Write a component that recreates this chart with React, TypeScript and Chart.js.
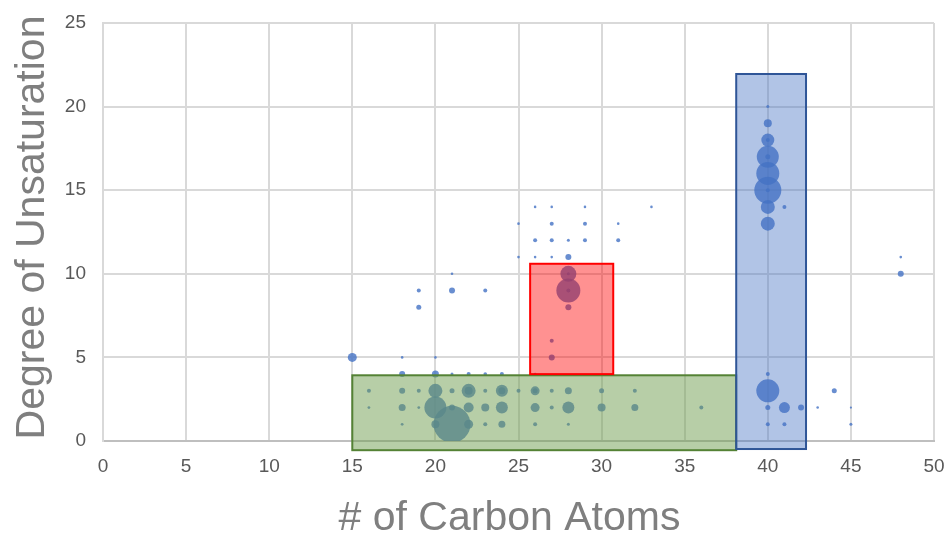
import React, { useEffect, useRef } from 'react';
import { Chart, registerables } from 'chart.js';

Chart.register(...registerables);

// ---- Data ----
const bubbleX = [
  15, 18, 20, 27, 27,
  18, 20, 21, 22, 23, 24, 26, 40,
  16, 18, 19, 20, 21, 22, 22, 23, 24, 24, 25, 26, 26, 27, 28, 30, 32, 40, 44,
  16, 18, 19, 20, 21, 22, 23, 24, 26, 27, 28, 30, 32, 36, 40, 41, 42, 43, 45,
  18, 20, 21, 22, 23, 24, 26, 28, 40, 41, 45,
  19, 28,
  19, 21, 23, 28, 28,
  21, 28, 28, 48,
  25, 26, 27, 28, 48,
  26, 27, 28, 29, 31,
  25, 27, 29, 31, 40,
  26, 27, 29, 33, 40, 41,
  40, 40,
  40,
  40, 40,
  40, 40,
  40,
  40,
];
const bubbleY = [
  5, 5, 5, 5, 6,
  4, 4, 4, 4, 4, 4, 4, 4,
  3, 3, 3, 3, 3, 3, 3, 3, 3, 3, 3, 3, 3, 3, 3, 3, 3, 3, 3,
  2, 2, 2, 2, 2, 2, 2, 2, 2, 2, 2, 2, 2, 2, 2, 2, 2, 2, 2,
  1, 1, 1, 1, 1, 1, 1, 1, 1, 1, 1,
  8, 8,
  9, 9, 9, 9, 9,
  10, 10, 10, 10,
  11, 11, 11, 11, 11,
  12, 12, 12, 12, 12,
  13, 13, 13, 13, 13,
  14, 14, 14, 14, 14, 14,
  15, 15,
  16,
  17, 17,
  18, 18,
  19,
  20,
];
const bubbleR = [
  4.5, 1.3, 1.3, 3, 2,
  3, 3.5, 1.5, 2, 1.8, 2, 1.3, 2,
  2, 3, 2, 7, 2.5, 7, 4, 2, 6, 3.5, 2, 4.5, 2.5, 2, 3.5, 2.5, 2, 11.5, 2.5,
  1.4, 3.5, 1.4, 11, 3, 5, 4, 6, 4.5, 2, 6, 4, 3.5, 2, 2.5, 5.5, 3, 1.3, 1.1,
  1.4, 4, 18.5, 4.5, 2, 3.5, 2, 1.5, 2, 2, 1.5,
  2.5, 3,
  2, 3, 2, 12, 2,
  1.3, 8, 1.5, 3,
  1.3, 1.3, 1.3, 3, 1.3,
  2, 2, 1.5, 2, 2,
  1.3, 2, 2, 1.3, 7,
  1.3, 1.3, 1.3, 1.3, 7, 2,
  13.5, 2,
  11.5,
  11, 2.5,
  6.5, 2,
  4,
  1.5,
];

// Highlight boxes (data units)
const boxXMin = [15, 25.7, 38.1];
const boxXMax = [38.1, 30.7, 42.3];
const boxYMin = [-0.55, 4.0, -0.48];
const boxYMax = [3.93, 10.6, 21.95];

const xTitle = '# of Carbon Atoms';
const yTitle = 'Degree of Unsaturation';

// ---- Styles ----
const boxFill = ['rgba(112,158,80,0.5)', 'rgba(255,0,0,0.43)', 'rgba(68,114,196,0.42)'];
const boxStroke = ['#548235', '#ff0000', '#2f5597'];
const FONT = '"Liberation Sans", Arial, sans-serif';

export default function App() {
  const canvasRef = useRef<HTMLCanvasElement | null>(null);

  useEffect(() => {
    const canvas = canvasRef.current;
    if (!canvas) return;

    const boxesPlugin = {
      id: 'boxes',
      afterDatasetsDraw(chart: any) {
        const { ctx, scales } = chart;
        const xs = scales.x;
        const ys = scales.y;
        ctx.save();
        for (let i = 0; i < boxXMin.length; i++) {
          const x1 = xs.getPixelForValue(boxXMin[i]);
          const x2 = xs.getPixelForValue(boxXMax[i]);
          const y1 = ys.getPixelForValue(boxYMax[i]);
          const y2 = ys.getPixelForValue(boxYMin[i]);
          ctx.fillStyle = boxFill[i];
          ctx.fillRect(x1, y1, x2 - x1, y2 - y1);
          ctx.lineWidth = 2;
          ctx.strokeStyle = boxStroke[i];
          ctx.strokeRect(x1, y1, x2 - x1, y2 - y1);
        }
        ctx.restore();
      },
    };

    const titlesPlugin = {
      id: 'axisTitles',
      afterDraw(chart: any) {
        const { ctx, chartArea } = chart;
        ctx.save();
        ctx.fillStyle = '#7f7f7f';
        ctx.font = `41px ${FONT}`;
        ctx.textAlign = 'center';
        ctx.textBaseline = 'alphabetic';
        const cx = (chartArea.left + chartArea.right) / 2 - 9;
        ctx.fillText(xTitle, cx, 530);
        const cy = (chartArea.top + chartArea.bottom) / 2 - 4.5;
        ctx.translate(44, cy);
        ctx.rotate(-Math.PI / 2);
        ctx.fillText(yTitle, 0, 0);
        ctx.restore();
      },
    };

    const data = bubbleX.map((x, i) => ({ x, y: bubbleY[i], r: bubbleR[i] }));

    const chart = new Chart(canvas, {
      type: 'bubble',
      data: {
        datasets: [
          {
            data,
            backgroundColor: 'rgba(68,114,196,0.8)',
            borderWidth: 0,
            hoverRadius: 0,
          },
        ],
      },
      options: {
        animation: false,
        responsive: false,
        maintainAspectRatio: false,
        layout: { autoPadding: false, padding: { top: 23, right: 14, left: 0, bottom: 0 } },
        plugins: { legend: { display: false }, tooltip: { enabled: false } },
        scales: {
          x: {
            type: 'linear',
            min: 0,
            max: 50,
            ticks: {
              stepSize: 5,
              color: '#595959',
              font: { family: FONT, size: 19 },
              padding: 14,
              maxRotation: 0,
            },
            grid: { color: '#d9d9d9', lineWidth: 2, drawTicks: false },
            border: { color: '#bfbfbf', width: 2 },
            afterFit: (scale: any) => {
              scale.height = 96;
              scale.paddingLeft = 0;
              scale.paddingRight = 0;
            },
          },
          y: {
            type: 'linear',
            min: 0,
            max: 25,
            ticks: {
              stepSize: 5,
              color: '#595959',
              font: { family: FONT, size: 19 },
              padding: 17,
            },
            grid: { color: '#d9d9d9', lineWidth: 2, drawTicks: false },
            border: { color: '#d9d9d9', width: 2 },
            afterFit: (scale: any) => {
              scale.width = 103;
              scale.paddingTop = 0;
              scale.paddingBottom = 0;
            },
          },
        },
      },
      plugins: [boxesPlugin, titlesPlugin],
    });

    return () => chart.destroy();
  }, []);

  return (
    <div style={{ position: 'fixed', left: 0, top: 0, width: 948, height: 537, background: '#fff' }}>
      <canvas ref={canvasRef} width={948} height={537} style={{ display: 'block' }} />
    </div>
  );
}
